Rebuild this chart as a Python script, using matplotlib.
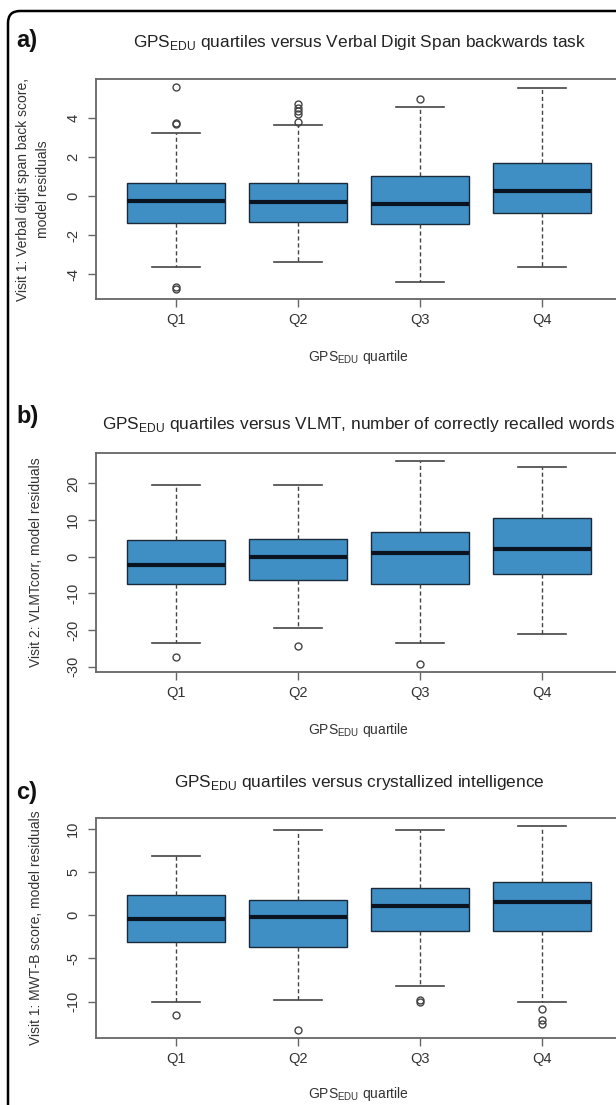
import matplotlib
matplotlib.use("Agg")
import matplotlib.pyplot as plt
from matplotlib.patches import FancyBboxPatch
from matplotlib.transforms import IdentityTransform

plt.rcParams['font.family'] = ['Liberation Sans', 'DejaVu Sans']
plt.rcParams['mathtext.fontset'] = 'custom'
plt.rcParams['mathtext.rm'] = 'Liberation Sans'

groups = ["Q1", "Q2", "Q3", "Q4"]

# panel a: verbal digit span backwards
a_med = [-0.26, -0.31, -0.39, 0.26]
a_q1 = [-1.39, -1.33, -1.41, -0.88]
a_q3 = [0.65, 0.68, 1.02, 1.68]
a_lo = [-3.64, -3.37, -4.40, -3.60]
a_hi = [3.23, 3.60, 4.54, 5.51]
a_fl = [[3.67, 3.75, 5.55, -4.74, -4.66], [3.79, 4.20, 4.35, 4.50, 4.70], [4.95], []]

# panel b: VLMT
b_med = [-2.2, -0.2, 1.0, 2.2]
b_q1 = [-7.4, -6.3, -7.4, -4.7]
b_q3 = [4.5, 4.8, 6.6, 10.5]
b_lo = [-23.5, -19.6, -23.5, -21.1]
b_hi = [19.5, 19.5, 26.2, 24.5]
b_fl = [[-27.5], [-24.5], [-29.3], []]

# panel c: MWT-B
c_med = [-0.43, -0.19, 1.09, 1.55]
c_q1 = [-3.10, -3.64, -1.82, -1.82]
c_q3 = [2.36, 1.74, 3.18, 3.84]
c_lo = [-10.04, -9.84, -8.18, -10.04]
c_hi = [6.86, 9.88, 9.88, 10.39]
c_fl = [[-11.6], [-13.26], [-9.77, -10.1], [-10.85, -12.1, -12.6]]

W, H = 616, 1105
fig = plt.figure(figsize=(W / 100, H / 100), dpi=100)

txt = "#333333"
spine = "#666666"
fill = "#3f8fc5"

panels = [
    dict(lab="a)", top=79, bot=299, ylim=(-5.25, 5.97), yt=[-4, -2, 0, 2, 4],
         title=r"GPS$_{\rm EDU}$ quartiles versus Verbal Digit Span backwards task",
         ylabel="Visit 1: Verbal digit span back score,\nmodel residuals", ylx=33,
         data=(a_med, a_q1, a_q3, a_lo, a_hi, a_fl), laby=40, titley=43, xly=357),
    dict(lab="b)", top=453, bot=672, ylim=(-31.5, 28.3), yt=[-30, -20, -10, 0, 10, 20],
         title=r"GPS$_{\rm EDU}$ quartiles versus VLMT, number of correctly recalled words",
         ylabel="Visit 2: VLMTcorr, model residuals", ylx=36,
         data=(b_med, b_q1, b_q3, b_lo, b_hi, b_fl), laby=416, titley=425, xly=730),
    dict(lab="c)", top=818, bot=1038, ylim=(-14.22, 11.28), yt=[-10, -5, 0, 5, 10],
         title=r"GPS$_{\rm EDU}$ quartiles versus crystallized intelligence",
         ylabel="Visit 1: MWT-B score, model residuals", ylx=36,
         data=(c_med, c_q1, c_q3, c_lo, c_hi, c_fl), laby=793, titley=782, xly=1094),
]

left_px, right_px = 95.5, 622.5
xc = (left_px + right_px) / 2

for p in panels:
    ax = fig.add_axes([left_px / W, 1 - p["bot"] / H, (right_px - left_px) / W,
                       (p["bot"] - p["top"]) / H])
    med, q1, q3, lo, hi, fl = p["data"]
    stats = []
    for i in range(4):
        stats.append(dict(med=med[i], q1=q1[i], q3=q3[i], whislo=lo[i],
                          whishi=hi[i], fliers=fl[i], label=groups[i]))
    ax.bxp(stats, positions=[1, 2, 3, 4], widths=0.8, patch_artist=True,
           boxprops=dict(facecolor=fill, edgecolor="#1a2a3a", linewidth=1.0),
           medianprops=dict(color="#0a1420", linewidth=3.0, solid_capstyle="butt"),
           whiskerprops=dict(color="#444444", linewidth=1.0, linestyle=(0, (3, 2))),
           capprops=dict(color="#444444", linewidth=1.2),
           capwidths=0.4,
           flierprops=dict(marker="o", markersize=5, markerfacecolor="none",
                           markeredgecolor="#444444", markeredgewidth=1.0))
    ax.set_xlim(0.34, 4.66)
    ax.set_ylim(*p["ylim"])
    ax.set_yticks(p["yt"])
    ax.set_yticklabels([str(v) for v in p["yt"]], rotation=90, va="center")
    ax.set_xticks([1, 2, 3, 4])
    ax.set_xticklabels(groups)
    ax.tick_params(colors=spine, labelcolor=txt, labelsize=10.5, length=6, width=1.0, pad=5)
    ax.tick_params(axis="x", pad=4)
    for s in ax.spines.values():
        s.set_color(spine)
        s.set_linewidth(1.3)

    fig.text(p["ylx"] / W, 1 - (p["top"] + p["bot"]) / 2 / H, p["ylabel"],
             rotation=90, fontsize=10, color=txt, ha="center", va="center",
             linespacing=1.55, multialignment="center")
    fig.text(16 / W, 1 - p["laby"] / H, p["lab"], fontsize=17, fontweight="bold",
             va="center", ha="left", color="#111111")
    fig.text(xc / W, 1 - p["titley"] / H, p["title"], fontsize=12.4, va="center",
             ha="center", color="#222222")
    fig.text(xc / W, 1 - p["xly"] / H, r"GPS$_{\rm EDU}$ quartile", fontsize=10,
             va="center", ha="center", color=txt)

# rounded outer frame, in output pixels (origin at bottom-left)
frame = FancyBboxPatch((8, -60), 700, H - 11 + 60,
                       boxstyle="round,pad=0,rounding_size=12",
                       transform=IdentityTransform(), fill=False, edgecolor="black",
                       linewidth=1.8, clip_on=False)
fig.patches.append(frame)

fig.savefig("out.png", dpi=100, facecolor="white")
